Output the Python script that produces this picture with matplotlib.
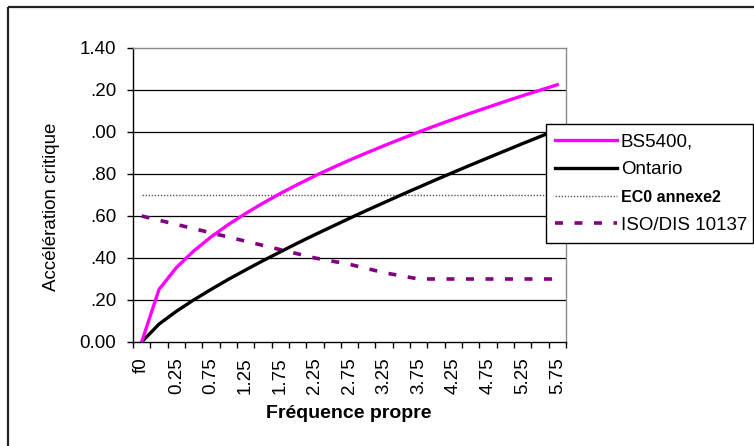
import matplotlib
matplotlib.use("Agg")
import matplotlib.pyplot as plt
from matplotlib.lines import Line2D
import numpy as np

# ---------------- data ----------------
categories = ["f0", "0", "0.25", "0.5", "0.75", "1", "1.25", "1.5", "1.75", "2",
              "2.25", "2.5", "2.75", "3", "3.25", "3.5", "3.75", "4", "4.25",
              "4.5", "4.75", "5", "5.25", "5.5", "5.75"]
bs5400 = [0.0, 0.25, 0.354, 0.433, 0.50, 0.559, 0.612, 0.661, 0.707, 0.75,
          0.791, 0.829, 0.866, 0.901, 0.935, 0.968, 1.0, 1.031, 1.061, 1.09,
          1.118, 1.146, 1.173, 1.199, 1.225]
ontario = [0.0, 0.085, 0.146, 0.20, 0.25, 0.298, 0.343, 0.387, 0.429, 0.471,
           0.511, 0.55, 0.589, 0.627, 0.664, 0.701, 0.737, 0.773, 0.808, 0.843,
           0.877, 0.911, 0.945, 0.978, 1.011]
ec0 = [0.70, 0.70, 0.70, 0.70, 0.70, 0.70, 0.70, 0.70, 0.70, 0.70, 0.70, 0.70,
       0.70, 0.70, 0.70, 0.70, 0.70, 0.70, 0.70, 0.70, 0.70, 0.70, 0.70, 0.70, 0.70]
iso = [0.60, 0.58, 0.56, 0.54, 0.52, 0.50, 0.48, 0.46, 0.44, 0.42, 0.40, 0.385,
       0.37, 0.35, 0.33, 0.315, 0.30, 0.30, 0.30, 0.30, 0.30, 0.30, 0.30, 0.30, 0.30]
series_names = ["BS5400,", "Ontario", "EC0 annexe2", "ISO/DIS 10137"]
y_tick_values = [0.0, 0.2, 0.4, 0.6, 0.8, 1.0, 1.2, 1.4]
y_tick_labels = ["0.00", ".20", ".40", ".60", ".80", ".00", ".20", "1.40"]
x_title = "Fréquence propre"
y_title = "Accélération critique"

# ---------------- figure ----------------
W, H = 754, 446
plt.rcParams['font.family'] = ['Liberation Sans', 'DejaVu Sans']
fig = plt.figure(figsize=(W / 100, H / 100), dpi=100)
fig.patch.set_facecolor('white')

# outer chart frame (left and top edges visible)
fig.add_artist(Line2D([8 / W, 8 / W], [0, 1 - 7 / H], transform=fig.transFigure,
                      color='#222222', lw=1.6, solid_capstyle='butt'))
fig.add_artist(Line2D([8 / W, 1], [1 - 7 / H, 1 - 7 / H], transform=fig.transFigure,
                      color='#222222', lw=1.6, solid_capstyle='butt'))

ax = fig.add_axes([133 / W, (H - 342) / H, (566 - 133) / W, (342 - 48) / H])
x = np.arange(len(categories))

ax.set_xlim(-0.5, len(categories) - 0.5)
ax.set_ylim(y_tick_values[0], y_tick_values[-1])

# gridlines
for v in y_tick_values[1:-1]:
    ax.axhline(v, color='black', lw=0.9, zorder=1)

ax.plot(x, ec0, color='#555555', lw=1.0, linestyle=(0, (1, 1.2)), zorder=2,
        label=series_names[2])
ax.plot(x, iso, color='#800080', lw=2.6, linestyle=(0, (2.2, 3.2)), zorder=3,
        label=series_names[3], solid_capstyle='butt')
ax.plot(x, ontario, color='black', lw=2.4, zorder=4, label=series_names[1])
ax.plot(x, bs5400, color='#FF00FF', lw=2.4, zorder=5, label=series_names[0])

# spines
for s in ['top', 'right']:
    ax.spines[s].set_color('#8a8a8a')
    ax.spines[s].set_linewidth(1.0)
for s in ['left', 'bottom']:
    ax.spines[s].set_color('black')
    ax.spines[s].set_linewidth(1.0)

# y ticks
ax.set_yticks(y_tick_values)
ax.set_yticklabels(y_tick_labels)
ax.tick_params(axis='y', direction='out', length=4, width=1, pad=8,
               labelsize=13.5, colors='black')

# x ticks: marks at category boundaries, labels on every other category
ax.set_xticks(np.arange(-0.5, len(categories), 1))
ax.set_xticklabels([])
ax.tick_params(axis='x', which='major', direction='out', length=4, width=1)
ax.set_xticks(x[::2], minor=True)
ax.set_xticklabels(categories[::2], minor=True, rotation=90)
ax.tick_params(axis='x', which='minor', length=0, pad=11, labelsize=13.5)

fig.text(349 / W, 1 - 414 / H, x_title, ha='center', va='center',
         fontsize=14, fontweight='bold')
fig.text(52 / W, 1 - 207 / H, y_title, ha='center', va='center',
         rotation=90, fontsize=13.5)

# legend
h, l = ax.get_legend_handles_labels()
hd = {lab: hh for hh, lab in zip(h, l)}
leg = ax.legend([hd[n] for n in series_names], series_names,
                loc='upper left',
                bbox_to_anchor=(546 / W, (H - 242) / H, (753 - 546) / W, (242 - 124) / H),
                bbox_transform=fig.transFigure, mode='expand',
                borderaxespad=0, fontsize=13.5, frameon=True, fancybox=False,
                framealpha=1, edgecolor='black', handlelength=3.3,
                handletextpad=0.2, borderpad=0.5, labelspacing=0.58)
leg.get_frame().set_linewidth(1.0)
leg.set_zorder(10)
for t in leg.get_texts():
    if t.get_text() == series_names[2]:
        t.set_fontweight('bold')
        t.set_fontsize(11.5)

fig.savefig('out.png', dpi=100)
